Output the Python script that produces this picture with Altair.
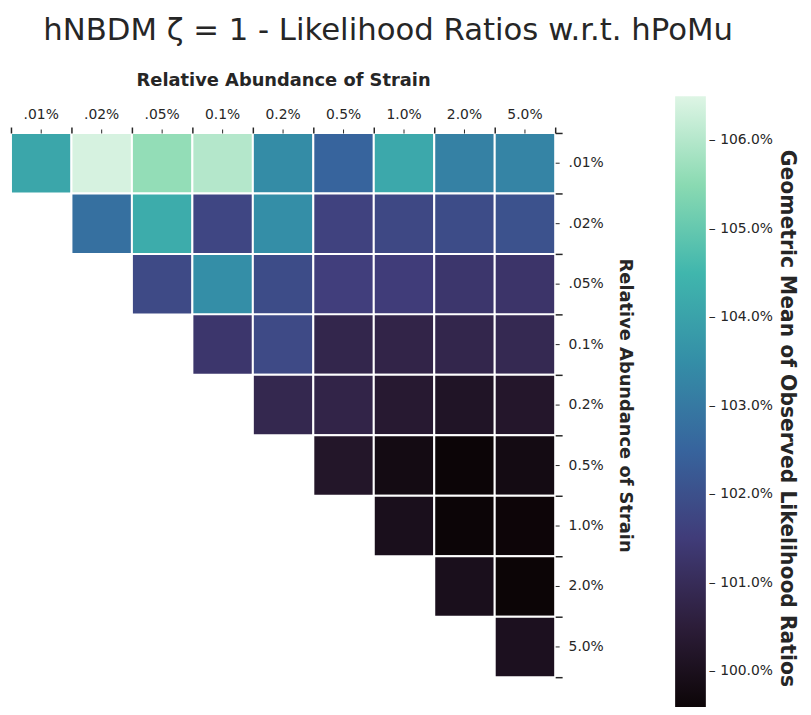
import altair as alt
import pandas as pd

labels = [".01%", ".02%", ".05%", "0.1%", "0.2%", "0.5%", "1.0%", "2.0%", "5.0%"]

row0 = [104.1, 106.4, 105.6, 106.0, 103.45, 102.5, 104.15, 103.2, 103.25]
row1 = [None, 102.8, 104.25, 101.75, 103.5, 101.65, 101.8, 101.9, 102.05]
row2 = [None, None, 101.85, 103.5, 101.9, 101.55, 101.5, 101.3, 101.25]
row3 = [None, None, None, 101.3, 101.85, 100.8, 100.75, 100.8, 100.9]
row4 = [None, None, None, None, 100.85, 100.75, 100.35, 100.15, 100.25]
row5 = [None, None, None, None, None, 100.22, 99.8, 99.58, 99.8]
row6 = [None, None, None, None, None, None, 99.97, 99.58, 99.6]
row7 = [None, None, None, None, None, None, None, 99.97, 99.57]
row8 = [None, None, None, None, None, None, None, None, 100.02]
rows = [row0, row1, row2, row3, row4, row5, row6, row7, row8]

mako_colors = ["#0B0405", "#2E1E3B", "#413D7B", "#37659E",
               "#348FA7", "#40B7AD", "#8BDAB2", "#DEF5E5"]
cbar_min, cbar_max = 99.55, 106.5
cbar_ticks = [100, 101, 102, 103, 104, 105, 106]
cbar_title = ["Geometric Mean of Observed Likelihood Ratios"]

records = []
for r, vals in enumerate(rows):
    for c, v in enumerate(vals):
        if v is not None:
            records.append({"row": labels[r], "col": labels[c], "value": v})
df = pd.DataFrame(records)

n = len(mako_colors) - 1
stops = [cbar_min + k * (cbar_max - cbar_min) / n for k in range(n + 1)]

FONT = "DejaVu Sans"
TXT = "#262626"

xscale = alt.Scale(domain=labels, paddingInner=0, paddingOuter=0)
yscale = alt.Scale(domain=labels, paddingInner=0, paddingOuter=0)

cells = alt.Chart(df).mark_rect(stroke="white", strokeWidth=2).encode(
    x=alt.X("col:N", sort=labels, scale=xscale,
            axis=alt.Axis(orient="top", domain=False, tickSize=4, tickWidth=1,
                          tickColor=TXT, labelFontSize=14, labelColor=TXT,
                          labelFont=FONT, labelAngle=0, labelPadding=8,
                          title="Relative Abundance of Strain", titleFontSize=18,
                          titleFont=FONT, titleFontWeight="bold", titleColor=TXT,
                          titlePadding=18)),
    y=alt.Y("row:N", sort=labels, scale=yscale,
            axis=alt.Axis(orient="right", domain=False, tickSize=4, tickWidth=1,
                          tickColor=TXT, labelFontSize=14, labelColor=TXT,
                          labelFont=FONT, labelPadding=9,
                          title="Relative Abundance of Strain", titleFontSize=18,
                          titleFont=FONT, titleFontWeight="bold", titleColor=TXT,
                          titleAngle=90, titlePadding=12)),
    color=alt.Color("value:Q",
                    scale=alt.Scale(domain=stops, range=mako_colors,
                                    interpolate="rgb", clamp=True),
                    legend=alt.Legend(orient="none", legendX=670, legendY=-37,
                                      direction="vertical", gradientLength=620,
                                      gradientThickness=31, gradientStrokeWidth=0,
                                      values=cbar_ticks,
                                      labelExpr="'–  ' + format(datum.value, '.1f') + '%'",
                                      labelFontSize=14, labelFont=FONT,
                                      labelColor=TXT, labelOffset=3,
                                      title="")),
)

edges = alt.Chart(df).mark_rect(opacity=0).encode(
    x=alt.X("col:N", sort=labels, scale=xscale,
            axis=alt.Axis(orient="top", domain=False, labels=False, tickBand="extent",
                          tickSize=6, tickWidth=1.5, tickColor=TXT, title="")),
    y=alt.Y("row:N", sort=labels, scale=yscale,
            axis=alt.Axis(orient="right", domain=False, labels=False, tickBand="extent",
                          tickSize=7, tickWidth=1.5, tickColor=TXT, title="")),
)

ctitle = alt.Chart(pd.DataFrame({"t": cbar_title})).mark_text(
    angle=90, fontSize=20.5, font=FONT, fontWeight="bold", color=TXT,
    align="center", baseline="middle"
).encode(text="t:N", x=alt.value(783), y=alt.value(288))

chart = alt.layer(cells, edges, ctitle).resolve_axis(x="independent", y="independent").properties(
    width=549, height=549,
    padding={"left": 3, "top": 123, "right": 250, "bottom": 27},
    autosize=alt.AutoSizeParams(type="none"),
    title=alt.TitleParams("hNBDM ζ = 1 - Likelihood Ratios w.r.t. hPoMu",
                          fontSize=31, font=FONT, fontWeight="normal", color=TXT,
                          anchor="middle", dx=106, offset=25),
).configure(background="white", view=alt.ViewConfig(stroke=None))

chart.save("out.html", embed_options={"renderer": "svg", "actions": False})
